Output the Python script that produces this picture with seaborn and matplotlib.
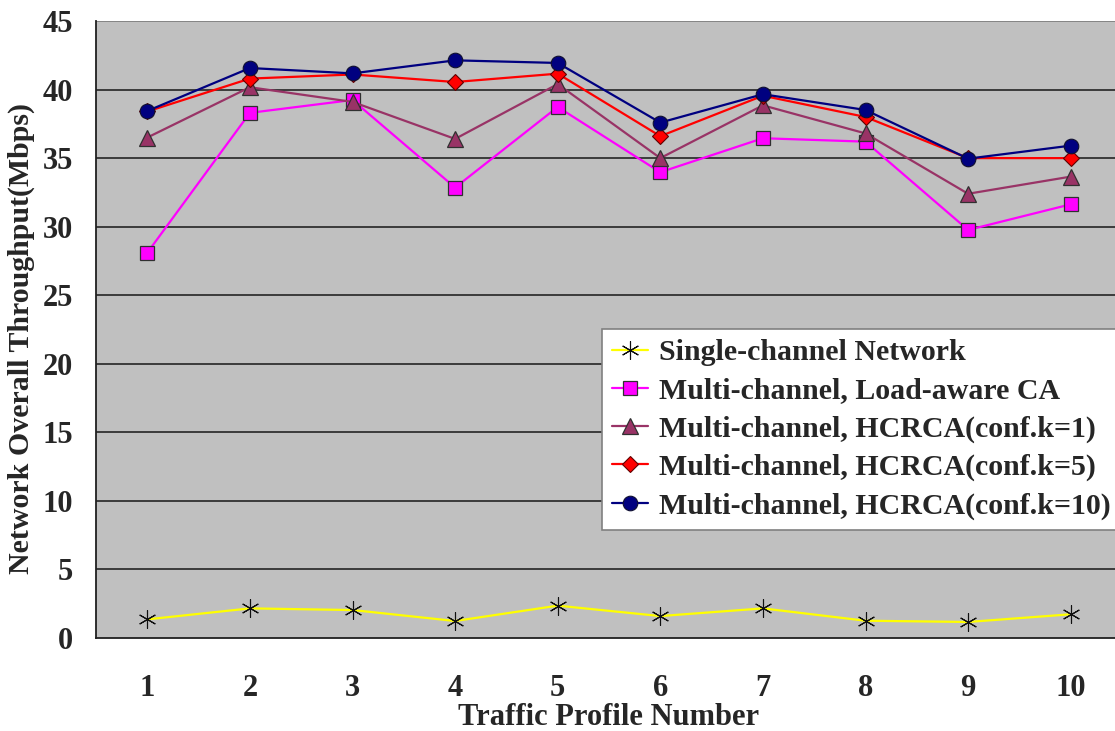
import matplotlib
matplotlib.use("Agg")
import matplotlib.pyplot as plt
import seaborn as sns
import pandas as pd

# Throughput (Mbps) per traffic profile
profiles = [1, 2, 3, 4, 5, 6, 7, 8, 9, 10]
single_channel = [1.36, 2.16, 2.04, 1.24, 2.36, 1.60, 2.16, 1.26, 1.17, 1.73]
load_aware = [28.1, 38.3, 39.24, 32.85, 38.73, 33.97, 36.45, 36.2, 29.76, 31.63]
hcrca_k1 = [36.5, 40.17, 39.1, 36.4, 40.4, 35.0, 38.85, 36.8, 32.4, 33.65]
hcrca_k5 = [38.4, 40.8, 41.1, 40.55, 41.16, 36.6, 39.55, 38.0, 35.0, 35.0]
hcrca_k10 = [38.44, 41.57, 41.18, 42.13, 41.94, 37.59, 39.66, 38.51, 34.96, 35.91]

series_names = [
    "Single-channel Network",
    "Multi-channel, Load-aware CA",
    "Multi-channel, HCRCA(conf.k=1)",
    "Multi-channel, HCRCA(conf.k=5)",
    "Multi-channel, HCRCA(conf.k=10)",
]
series_values = [single_channel, load_aware, hcrca_k1, hcrca_k5, hcrca_k10]
y_ticks = [0, 5, 10, 15, 20, 25, 30, 35, 40, 45]

sns.set_theme(style="white")
plt.rcParams["font.family"] = ["Liberation Serif", "DejaVu Serif"]
plt.rcParams["font.weight"] = "bold"

df = pd.DataFrame(
    [(n, p, v) for n, vals in zip(series_names, series_values) for p, v in zip(profiles, vals)],
    columns=["series", "profile", "throughput"],
)

fig = plt.figure(figsize=(11.15, 7.31), dpi=100)
ax = fig.add_axes([96 / 1115, 93 / 731, 1026 / 1115, 617 / 731])
ax.set_facecolor("#C0C0C0")

styles = {
    series_names[0]: dict(color="#FFFF00", marker=(6, 2, 0), markersize=13,
                          markeredgecolor="#101010", markeredgewidth=0.8),
    series_names[1]: dict(color="#FF00FF", marker="s", markersize=10,
                          markerfacecolor="#FF00FF", markeredgecolor="#303030", markeredgewidth=0.9),
    series_names[2]: dict(color="#993366", marker="^", markersize=11,
                          markerfacecolor="#993366", markeredgecolor="#303030", markeredgewidth=0.9),
    series_names[3]: dict(color="#FF0000", marker="D", markersize=8.5,
                          markerfacecolor="#FF0000", markeredgecolor="#600000", markeredgewidth=0.8),
    series_names[4]: dict(color="#000080", marker="o", markersize=10.5,
                          markerfacecolor="#000080", markeredgecolor="#101030", markeredgewidth=0.8),
}

for name in series_names:
    sub = df[df["series"] == name]
    sns.lineplot(data=sub, x="profile", y="throughput", ax=ax, label=name,
                 linewidth=1.6, estimator=None, **styles[name])

ax.set_xlim(0.5, 10.5)
ax.set_ylim(0, 45)
ax.set_yticks(y_ticks)
ax.set_xticks(profiles)
ax.set_xticks([p + 0.5 for p in profiles[:-1]], minor=True)
ax.tick_params(axis="x", which="major", length=0, pad=26, labelsize=22)
ax.tick_params(axis="x", which="minor", direction="in", length=9, width=1, color="#202020")
ax.tick_params(axis="y", length=0, pad=16.5, labelsize=22)
for lbl in ax.get_xticklabels() + ax.get_yticklabels():
    lbl.set_fontweight("bold")

for y in y_ticks[1:-1]:
    ax.axhline(y, color="#303030", linewidth=1.3, zorder=0.5)
ax.axhline(45, color="#808080", linewidth=1.3, zorder=0.5)

for side in ["left", "bottom"]:
    ax.spines[side].set_color("#202020")
    ax.spines[side].set_linewidth(1.3)
ax.spines["top"].set_visible(False)
ax.spines["right"].set_visible(False)

ax.set_xlabel("Traffic Profile Number", fontsize=22, fontweight="bold", labelpad=0)
ax.set_ylabel("Network Overall Throughput(Mbps)", fontsize=21.5, fontweight="bold")
ax.yaxis.label.set_va("center")
ax.yaxis.set_label_coords(-75 / 1026, 0.485)

leg = ax.legend(loc="upper left", bbox_to_anchor=(602 / 1115, 1 - 329 / 731),
                bbox_transform=fig.transFigure, borderaxespad=0, fancybox=False,
                frameon=True, framealpha=1, edgecolor="#808080",
                prop={"family": "Liberation Serif", "weight": "bold", "size": 21.5},
                handlelength=1.2, handletextpad=0.35, labelspacing=0.37,
                borderpad=0.35)
leg.get_frame().set_linewidth(1.2)

fig.savefig("out.png", dpi=100, facecolor="white")
